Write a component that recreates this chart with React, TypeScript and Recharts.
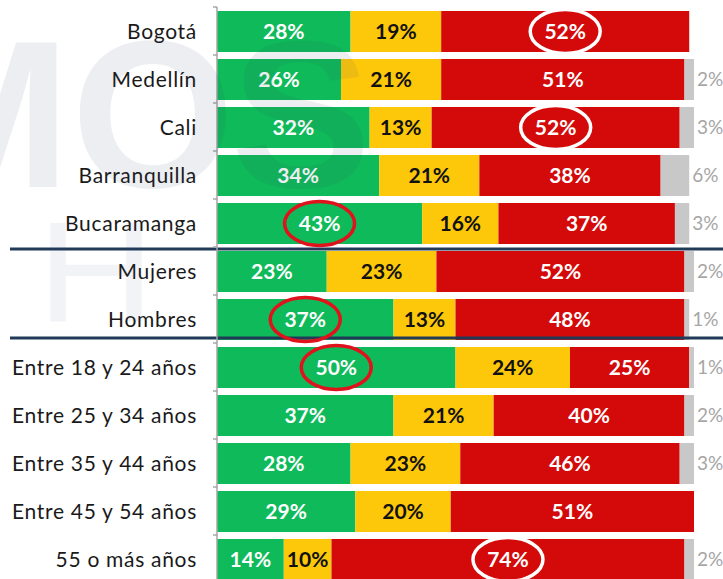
import React from "react";
import { BarChart, Bar, XAxis, YAxis, LabelList, ReferenceLine } from "recharts";

const categories = [
  "Bogotá",
  "Medellín",
  "Cali",
  "Barranquilla",
  "Bucaramanga",
  "Mujeres",
  "Hombres",
  "Entre 18 y 24 años",
  "Entre 25 y 34 años",
  "Entre 35 y 44 años",
  "Entre 45 y 54 años",
  "55 o más años",
];
const verde = [28, 26, 32, 34, 43, 23, 37, 50, 37, 28, 29, 14];
const amarillo = [19, 21, 13, 21, 16, 23, 13, 24, 21, 23, 20, 10];
const rojo = [52, 51, 52, 38, 37, 52, 48, 25, 40, 46, 51, 74];
const gris = [0, 2, 3, 6, 3, 2, 1, 1, 2, 3, 0, 2];

// labels circled in the original slide
const circuloRojo = ["Bucaramanga", "Hombres", "Entre 18 y 24 años"];
const circuloBlanco = ["Bogotá", "Cali", "55 o más años"];

const data = categories.map((name, i) => ({
  name,
  verde: verde[i],
  amarillo: amarillo[i],
  rojo: rojo[i],
  gris: gris[i],
}));

const W = 723;
const H = 583;
const TOP = 7;
const BAND = (H - TOP) / categories.length;
const FONT = "Lato, 'Noto Sans', sans-serif";

const CategoryTick = (props: any) => {
  const { x, y, payload } = props;
  return (
    <g>
      <text
        x={x - 20}
        y={y}
        dy="0.36em"
        textAnchor="end"
        fontSize={21}
        fill="#1a1a1a"
        fontFamily={FONT}
        letterSpacing={0.7}
      >
        {payload.value}
      </text>
      <line x1={x - 4} x2={x} y1={y - BAND / 2} y2={y - BAND / 2} stroke="#a6a6a6" strokeWidth={1.5} />
    </g>
  );
};

const segmentLabel = (fill: string, circled: string[], ring: string) => (props: any) => {
  const { x, y, width, height, value, index } = props;
  if (!value) return null;
  const cx = Number(x) + Number(width) / 2;
  const cy = Number(y) + Number(height) / 2;
  const ringed = circled.includes(categories[index]);
  return (
    <g>
      {ringed && <ellipse cx={cx} cy={cy} rx={35} ry={22} fill="none" stroke={ring} strokeWidth={3.5} />}
      <text
        x={cx}
        y={cy}
        dy="0.36em"
        textAnchor="middle"
        fontSize={21}
        fontWeight={700}
        fill={fill}
        fontFamily={FONT}
      >
        {value}%
      </text>
    </g>
  );
};

const grayLabel = (props: any) => {
  const { x, y, width, height, value } = props;
  if (!value) return null;
  return (
    <text
      x={Number(x) + Number(width) + 3}
      y={Number(y) + Number(height) / 2}
      dy="0.36em"
      fontSize={19}
      fill="#a6a6a6"
      fontFamily={FONT}
    >
      {value}%
    </text>
  );
};

const dividerShape = (dy: number) => (props: any) => {
  const y = Number(props.y1) + dy;
  return <line x1={10} x2={W} y1={y} y2={y} stroke="#203a58" strokeWidth={3} />;
};

export default function App() {
  return (
    <div style={{ position: "absolute", left: 0, top: 0, width: W, height: H }}>
      <BarChart
        width={W}
        height={H}
        data={data}
        layout="vertical"
        margin={{ top: TOP, right: 29, bottom: 0, left: 0 }}
        barSize={41}
      >
        <XAxis type="number" domain={[0, 100]} hide />
        <YAxis
          type="category"
          dataKey="name"
          width={217}
          tickLine={false}
          tickSize={0}
          tickMargin={0}
          axisLine={{ stroke: "#a6a6a6", strokeWidth: 1.5 }}
          tick={<CategoryTick />}
          interval={0}
        />
        <Bar dataKey="verde" stackId="a" fill="#0fba5a" isAnimationActive={false}>
          <LabelList dataKey="verde" content={segmentLabel("#ffffff", circuloRojo, "#e0121b")} />
        </Bar>
        <Bar dataKey="amarillo" stackId="a" fill="#fec80a" isAnimationActive={false}>
          <LabelList dataKey="amarillo" content={segmentLabel("#111111", [], "#ffffff")} />
        </Bar>
        <Bar dataKey="rojo" stackId="a" fill="#d40a0a" isAnimationActive={false}>
          <LabelList dataKey="rojo" content={segmentLabel("#ffffff", circuloBlanco, "#ffffff")} />
        </Bar>
        <Bar dataKey="gris" stackId="a" fill="#c8c8c8" isAnimationActive={false}>
          <LabelList dataKey="gris" content={grayLabel} />
        </Bar>
        <ReferenceLine y="Bucaramanga" position="end" ifOverflow="visible" shape={dividerShape(2)} />
        <ReferenceLine y="Hombres" position="end" ifOverflow="visible" shape={dividerShape(-5)} />
      </BarChart>
      {/* faint watermark of the source slide */}
      <svg
        width={W}
        height={H}
        style={{ position: "absolute", left: 0, top: 0, pointerEvents: "none" }}
      >
        <g fill="#3c4660" fillOpacity={0.09} fontFamily="'Liberation Sans', Arial, sans-serif" fontWeight={700} fontSize={210} textAnchor="middle">
          <text x={-17} y={187}>M</text>
          <text x={153} y={187}>O</text>
          <text x={301} y={187}>S</text>
        </g>
        <text
          x={96}
          y={322}
          textAnchor="middle"
          fontFamily="'Liberation Sans', Arial, sans-serif"
          fontSize={142}
          fill="#4a5a8a"
          fillOpacity={0.07}
          transform="translate(96 0) scale(1.15 1) translate(-96 0)"
        >
          H
        </text>
      </svg>
    </div>
  );
}
